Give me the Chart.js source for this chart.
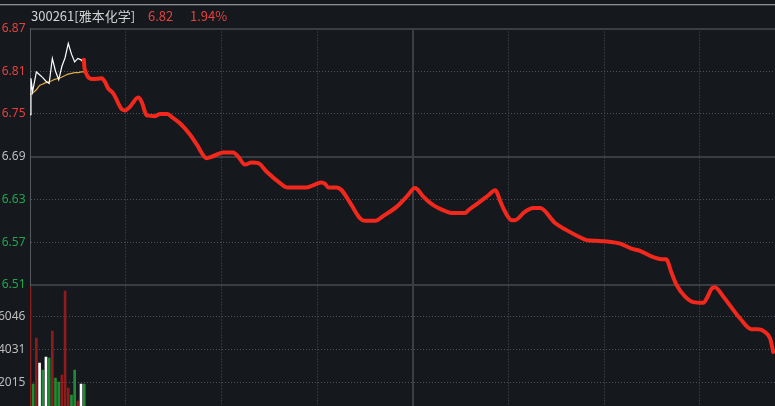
<!DOCTYPE html>
<html><head><meta charset="utf-8">
<script src="https://cdn.jsdelivr.net/npm/chart.js@4.4.0/dist/chart.umd.min.js"></script>
<style>
html,body{margin:0;padding:0;background:#15181d;overflow:hidden;}
#wrap{position:relative;width:775px;height:406px;overflow:hidden;background:#15181d;}
#c{position:absolute;left:0;top:0;}
.h{position:absolute;top:7px;font:13px "Noto Sans CJK SC","Noto Sans",sans-serif;line-height:18px;white-space:nowrap;color:#d4d4d4;}
.r{color:#e5403e;}
#tl1{position:absolute;left:0;top:4px;width:775px;height:1px;background:#8a8d92;}
#tl2{position:absolute;left:0;top:5px;width:775px;height:1px;background:#3a3d42;}
</style></head>
<body>
<div id="wrap">
<canvas id="c" width="800" height="430"></canvas>
<div id="tl1"></div><div id="tl2"></div>
<div class="h" style="left:31px">300261[雅本化学]</div>
<div class="h r" style="left:148px">6.82</div>
<div class="h r" style="left:190px">1.94%</div>
</div>
<script>
// ---- data ----
const priceTicks = [6.51, 6.57, 6.63, 6.69, 6.75, 6.81, 6.87];
const volumeTicks = [2015, 4031, 6046];
const timeTicks = [0, 30, 60, 90, 120, 150, 180, 210, 240];

const whiteMinutes = [0, 0.3, 0.8, 2, 3, 4, 5, 6, 7, 8, 9, 10, 11, 12, 13, 14, 15, 16, 16.9];
const whitePrices = [6.749, 6.800, 6.781, 6.809, 6.805, 6.801, 6.796, 6.793, 6.828, 6.810, 6.798, 6.817, 6.829, 6.849, 6.834, 6.823, 6.828, 6.826, 6.822];

const avgMinutes = [0, 1, 2, 3, 4, 5, 6, 7, 8, 9, 10, 11, 12, 13, 14, 15, 16, 17];
const avgPrices = [6.777, 6.780, 6.784, 6.790, 6.792, 6.794, 6.795, 6.797, 6.799, 6.800, 6.802, 6.804, 6.806, 6.807, 6.808, 6.808, 6.809, 6.809];

const redMinutes = [16.9,17.1,19.8,22.5,23.5,24.5,26.1,28.7,29.8,31.3,33.9,35.0,36.6,39.2,40.8,43.0,44.4,47.0,50.2,52.3,55.4,57.0,60.6,63.7,65.3,67.4,69.5,71.6,74.2,78.4,80.5,86.7,89.3,91.4,92.5,93.5,96.1,97.7,100.8,103.4,105.0,108.2,110.8,115.0,118.1,120.7,121.7,123.3,126.4,130.6,132.2,136.4,137.4,141.1,143.7,145.8,146.3,147.3,148.9,151.0,152.0,155.2,157.8,159.9,164.6,168.2,172.4,174.5,177.6,180.8,185.0,188.6,191.2,195.4,198.0,199.4,201.2,202.7,205.3,207.9,211.1,212.1,213.7,214.7,217.3,222.6,226.2,228.3,230.4,232.0,233.0];
const redPrices = [6.826,6.814,6.799,6.800,6.795,6.786,6.779,6.757,6.755,6.760,6.773,6.767,6.748,6.747,6.750,6.750,6.746,6.737,6.721,6.707,6.688,6.690,6.696,6.696,6.690,6.679,6.682,6.681,6.669,6.653,6.647,6.647,6.651,6.654,6.652,6.647,6.647,6.643,6.622,6.604,6.600,6.600,6.607,6.620,6.634,6.646,6.643,6.634,6.622,6.613,6.611,6.611,6.615,6.627,6.636,6.643,6.641,6.629,6.613,6.601,6.601,6.613,6.618,6.618,6.597,6.587,6.577,6.573,6.572,6.571,6.568,6.561,6.558,6.549,6.546,6.546,6.526,6.510,6.494,6.486,6.485,6.491,6.505,6.507,6.494,6.463,6.448,6.448,6.444,6.435,6.416];

const volMinutes = [0, 1, 2, 3, 4, 5, 6, 7, 8, 9, 10, 11, 12, 13, 14, 15, 16, 17];
const volValues = [7890, 1920, 4751, 3212, 2782, 3582, 3520, 5182, 2289, 2043, 2474, 7643, 1674, 1243, 2782, 874, 1920, 1920];
const volDirs = ['u','d','u','f','d','f','d','u','d','d','u','u','u','d','d','u','f','d'];

// ---- styles ----
const SOLID = '#3a3d42';
const DOT = '#4e5157';
const UP = '#e5403e', DOWN = '#1ea84c', FLAT = '#bdbdbd';
const dirColor = {u:'#8e1c1c', d:'#1f8c33', f:'#ffffff'};

const pts = (xs, ys) => xs.map((x, i) => ({x, y: ys[i]}));
const solidPrice = v => Math.abs(v - 6.87) < 1e-6 || Math.abs(v - 6.69) < 1e-6 || Math.abs(v - 6.51) < 1e-6;

const chart = new Chart(document.getElementById('c'), {
  type: 'line',
  data: {
    datasets: [
      {
        label: 'price2', data: pts(redMinutes, redPrices), yAxisID: 'y', order: 0,
        borderColor: '#f2281c', borderWidth: 4, pointRadius: 0,
        cubicInterpolationMode: 'monotone', borderJoinStyle: 'round', borderCapStyle: 'round'
      },
      {
        label: 'price', data: pts(whiteMinutes, whitePrices), yAxisID: 'y', order: 1,
        borderColor: '#ffffff', borderWidth: 1.2, pointRadius: 0, tension: 0
      },
      {
        label: 'avg', data: pts(avgMinutes, avgPrices), yAxisID: 'y', order: 2,
        borderColor: '#e3a845', borderWidth: 1.2, pointRadius: 0, tension: 0.3
      },
      {
        type: 'bar', label: 'vol', data: pts(volMinutes, volValues), yAxisID: 'yv', order: 3,
        backgroundColor: volDirs.map(d => dirColor[d]), borderWidth: 0,
        barThickness: 2
      }
    ]
  },
  options: {
    responsive: false, animation: false, devicePixelRatio: 1,
    layout: { padding: { left: 0, top: 28.5, right: 4.4, bottom: 14.8 } },
    plugins: { legend: { display: false }, tooltip: { enabled: false } },
    scales: {
      x: {
        type: 'linear', min: 0, max: 240, offset: false,
        afterBuildTicks: s => { s.ticks = timeTicks.map(v => ({value: v})); },
        afterFit: s => { s.height = 0; },
        ticks: { display: false },
        border: { display: false, dash: c => (c.tick && c.tick.value === 120) ? [] : [1, 2] },
        grid: {
          offset: false, drawTicks: false,
          color: c => (c.tick && c.tick.value === 0) ? 'rgba(0,0,0,0)' : (c.tick && c.tick.value === 120 ? SOLID : DOT),
          lineWidth: c => (c.tick && c.tick.value === 120) ? 2 : 1
        }
      },
      y: {
        type: 'linear', position: 'left', weight: 0,
        min: 6.32726, max: 6.87,
        afterBuildTicks: s => { s.ticks = priceTicks.map(v => ({value: v})); },
        afterFit: s => { s.width = 30; },
        ticks: {
          padding: 4.5,
          font: { family: 'Noto Sans', size: 12 },
          color: c => c.tick.value > 6.70 ? UP : (c.tick.value > 6.68 ? FLAT : DOWN),
          callback: v => v.toFixed(2)
        },
        border: { display: true, color: '#55585d', width: 1,
          dash: c => (c.tick && solidPrice(c.tick.value)) ? [] : [1, 2] },
        grid: {
          drawTicks: false,
          color: c => (c.tick && solidPrice(c.tick.value)) ? SOLID : DOT,
          lineWidth: c => (c.tick && solidPrice(c.tick.value)) ? 2 : 1
        }
      },
      yv: {
        type: 'linear', position: 'left', weight: 1,
        min: 0, max: 23798,
        afterBuildTicks: s => { s.ticks = volumeTicks.map(v => ({value: v})); },
        afterFit: s => { s.width = 0; },
        ticks: {
          mirror: true, padding: -2,
          font: { family: 'Noto Sans', size: 12 },
          color: FLAT,
          callback: v => String(v)
        },
        border: { display: false, dash: [1, 2] },
        grid: { drawTicks: false, color: DOT, lineWidth: 1 }
      }
    }
  }
});
</script>
</body></html>
